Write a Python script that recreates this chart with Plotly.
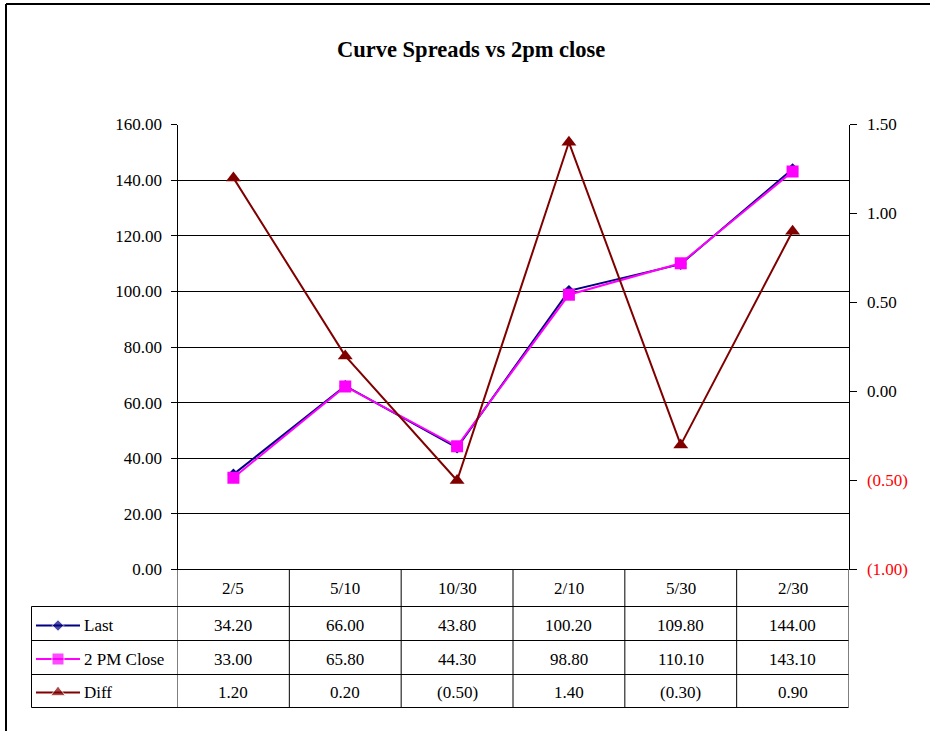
import plotly.graph_objects as go

# ---- data -------------------------------------------------------------
categories = ["2/5", "5/10", "10/30", "2/10", "5/30", "2/30"]
last = [34.20, 66.00, 43.80, 100.20, 109.80, 144.00]
close_2pm = [33.00, 65.80, 44.30, 98.80, 110.10, 143.10]
diff = [1.20, 0.20, -0.50, 1.40, -0.30, 0.90]

left_ticks = [0, 20, 40, 60, 80, 100, 120, 140, 160]
right_ticks = [-1.0, -0.5, 0.0, 0.5, 1.0, 1.5]

series_names = ["Last", "2 PM Close", "Diff"]
series_values = [last, close_2pm, diff]

# ---- styling ------------------------------------------------------------
W, H = 930, 731
FONT = "Liberation Serif"
FS = 17
NAVY, MAGENTA, MAROON = "#000080", "#FF00FF", "#800000"
styles = [
    dict(color=NAVY, symbol="diamond", size=9),
    dict(color=MAGENTA, symbol="square", size=12),
    dict(color=MAROON, symbol="triangle-up", size=13),
]


def fx(p):
    return p / W


def fy(p):
    return 1 - p / H


# plot area / table geometry (pixels)
PL, PR, PT, PB = 177.5, 848.5, 124.5, 569.5
TL = 31.5
row_lines = [606.5, 640.5, 674.5, 707.5]
header_mid = 588
row_mid = [625.5, 659, 692.5]


def fmt(v):
    return f"({abs(v):.2f})" if v < 0 else f"{v:.2f}"


def fmt_tick(v):
    if v < 0:
        return f'<span style="color:#FF0000">({abs(v):.2f})</span>'
    return f"{v:.2f}"


n = len(categories)
xs = list(range(n))

fig = go.Figure()

axis_of = ["y", "y", "y2"]
for name, vals, st, ya in zip(series_names, series_values, styles, axis_of):
    fig.add_trace(go.Scatter(
        x=xs, y=vals, name=name, mode="lines+markers", yaxis=ya, xaxis="x",
        line=dict(color=st["color"], width=2),
        marker=dict(color=st["color"], symbol=st["symbol"], size=st["size"]),
        showlegend=False, hoverinfo="skip",
    ))

# legend keys drawn inside the table's first column (pixel-space axes)
for i, (name, st) in enumerate(zip(series_names, styles)):
    fig.add_trace(go.Scatter(
        x=[36, 58, 80], y=[row_mid[i]] * 3, mode="lines+markers",
        xaxis="x2", yaxis="y4",
        line=dict(color=st["color"], width=2),
        marker=dict(color=st["color"], symbol=st["symbol"],
                    size=[0, st["size"], 0]),
        showlegend=False, hoverinfo="skip",
    ))

shapes = []
line_style = dict(color="black", width=1)
# outer chart frame (top and left edges)
shapes.append(dict(type="line", xref="paper", yref="paper",
                   x0=fx(6), x1=1, y0=fy(4), y1=fy(4),
                   line=dict(color="black", width=2)))
shapes.append(dict(type="line", xref="paper", yref="paper",
                   x0=fx(6), x1=fx(6), y0=fy(4), y1=0,
                   line=dict(color="black", width=2)))
# table horizontal rules
for yy in row_lines:
    shapes.append(dict(type="line", xref="paper", yref="paper",
                       x0=fx(TL), x1=fx(PR), y0=fy(yy), y1=fy(yy),
                       line=line_style))
shapes.append(dict(type="line", xref="paper", yref="paper",
                   x0=fx(PL), x1=fx(PR), y0=fy(PB), y1=fy(PB), line=line_style))
# table vertical rules (category boundaries)
for k in range(n + 1):
    shapes.append(dict(type="line", xref="x", yref="paper",
                       x0=k - 0.5, x1=k - 0.5, y0=fy(PB), y1=fy(row_lines[-1]),
                       line=line_style))
shapes.append(dict(type="line", xref="paper", yref="paper",
                   x0=fx(TL), x1=fx(TL), y0=fy(row_lines[0]), y1=fy(row_lines[-1]),
                   line=line_style))

annotations = []
annotations.append(dict(text="<b>Curve Spreads vs 2pm close</b>", xref="paper",
                        yref="paper", x=fx(471), y=fy(50), showarrow=False,
                        xanchor="center", yanchor="middle",
                        font=dict(family=FONT, size=22.5, color="black")))
for k, c in enumerate(categories):
    annotations.append(dict(text=c, xref="x", yref="paper", x=k, y=fy(header_mid),
                            showarrow=False, xanchor="center", yanchor="middle",
                            font=dict(family=FONT, size=FS, color="black")))
for i, (name, vals) in enumerate(zip(series_names, series_values)):
    annotations.append(dict(text=name, xref="paper", yref="paper", x=fx(82),
                            y=fy(row_mid[i]), showarrow=False, xanchor="left",
                            yanchor="middle",
                            font=dict(family=FONT, size=FS, color="black")))
    for k, v in enumerate(vals):
        annotations.append(dict(text=fmt(v), xref="x", yref="paper", x=k,
                                y=fy(row_mid[i]), showarrow=False,
                                xanchor="center", yanchor="middle",
                                font=dict(family=FONT, size=FS, color="black")))

tickfont = dict(family=FONT, size=FS, color="black")
fig.update_layout(
    width=W, height=H,
    margin=dict(l=0, r=0, t=0, b=0, autoexpand=False),
    paper_bgcolor="white", plot_bgcolor="rgba(0,0,0,0)",
    xaxis=dict(domain=[fx(PL), fx(PR)], range=[-0.5, n - 0.5],
               showgrid=False, zeroline=False, showticklabels=False,
               ticks="", showline=False, fixedrange=True, anchor="y"),
    yaxis=dict(domain=[fy(PB), fy(PT)], range=[0, 160], tickvals=left_ticks,
               ticktext=[f"{v:.2f}" for v in left_ticks],
               showgrid=True, gridcolor="black", gridwidth=1, zeroline=False,
               showline=True, linecolor="black", linewidth=1,
               ticks="outside", ticklen=6, tickcolor="black",
               ticklabelstandoff=5, tickfont=tickfont, anchor="x"),
    yaxis2=dict(domain=[fy(PB), fy(PT)], range=[-1.0, 1.5], overlaying="y",
                side="right", anchor="x", tickvals=right_ticks,
                ticktext=[fmt_tick(v) for v in right_ticks],
                showgrid=False, zeroline=False, showline=True,
                linecolor="black", linewidth=1, ticks="outside", ticklen=7,
                tickcolor="black", ticklabelstandoff=7, tickfont=tickfont),
    yaxis3=dict(domain=[fy(PB), fy(PT)], range=[-1.0, 1.5], overlaying="y",
                side="right", anchor="x", tickvals=right_ticks,
                showticklabels=False, showgrid=False, zeroline=False,
                showline=False, ticks="inside", ticklen=7, tickcolor="black"),
    xaxis2=dict(domain=[0, 1], range=[0, W], visible=False, anchor="y4",
                fixedrange=True),
    yaxis4=dict(domain=[0, 1], range=[H, 0], visible=False, anchor="x2",
                fixedrange=True),
    shapes=shapes,
    annotations=annotations,
)

fig.write_html("out.html")
